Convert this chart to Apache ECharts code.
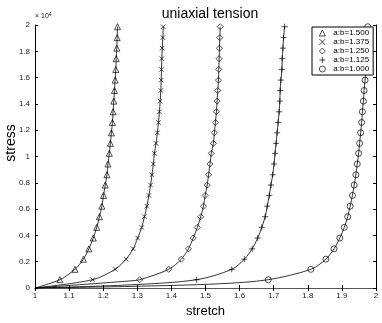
<!DOCTYPE html>
<html>
<head>
<meta charset="utf-8">
<script src="https://cdn.jsdelivr.net/npm/echarts@6/dist/echarts.min.js"></script>
<style>
  html, body { margin: 0; padding: 0; background: #fff; }
  #chart { width: 382px; height: 323px; }
</style>
</head>
<body>
<div id="chart"></div>
<script>
// stress is in units of 1e4 (axis reads "x 10^4")
const stressLevels = [0.063, 0.142, 0.219, 0.298, 0.380, 0.461, 0.542, 0.622, 0.704, 0.783, 0.861, 0.943, 1.024,
  1.100, 1.180, 1.259, 1.340, 1.421, 1.502, 1.581, 1.662, 1.744, 1.824, 1.904, 1.987];

// stretch at each marker, one array per aspect ratio
const stretch150 = [1.073, 1.117, 1.142, 1.158, 1.171, 1.181, 1.189, 1.196, 1.201, 1.206, 1.211, 1.214, 1.218,
  1.221, 1.224, 1.227, 1.229, 1.231, 1.233, 1.235, 1.237, 1.238, 1.240, 1.241, 1.242];
const stretch1375 = [1.169, 1.235, 1.267, 1.288, 1.301, 1.313, 1.321, 1.328, 1.334, 1.339, 1.343, 1.347, 1.350,
  1.355, 1.359, 1.362, 1.365, 1.367, 1.369, 1.370, 1.371, 1.372, 1.373, 1.375, 1.376];
const stretch125 = [1.307, 1.392, 1.429, 1.450, 1.464, 1.476, 1.486, 1.494, 1.499, 1.505, 1.509, 1.513, 1.517,
  1.523, 1.526, 1.529, 1.532, 1.534, 1.536, 1.538, 1.539, 1.540, 1.541, 1.542, 1.543];
const stretch1125 = [1.474, 1.577, 1.614, 1.637, 1.653, 1.665, 1.675, 1.681, 1.687, 1.692, 1.697, 1.701, 1.704,
  1.707, 1.710, 1.713, 1.716, 1.718, 1.719, 1.721, 1.724, 1.725, 1.727, 1.729, 1.732];
const stretch100 = [1.684, 1.809, 1.853, 1.877, 1.894, 1.907, 1.917, 1.924, 1.931, 1.936, 1.941, 1.945, 1.949,
  1.952, 1.955, 1.958, 1.960, 1.963, 1.965, 1.968, 1.970, 1.971, 1.973, 1.975, 1.976];

// unmarked points of the curve before its first marker (start at the origin)
const toe150 = [[1, 0]];
const toe1375 = [[1, 0]];
const toe125 = [[1, 0], [1.279, 0.054]];
const toe1125 = [[1, 0], [1.279, 0.024]];
const toe100 = [[1, 0], [1.279, 0.012], [1.54, 0.032]];

const names = ['a:b=1.500', 'a:b=1.375', 'a:b=1.250', 'a:b=1.125', 'a:b=1.000'];

const crossPath = 'path://M0,0L10,10M10,0L0,10';
const plusPath = 'path://M5,0L5,10M0,5L10,5';
const symbols = ['triangle', crossPath, 'diamond', plusPath, 'circle'];
const symbolSizes = [6, 4.5, 6, 6, 6];

function buildData(toe, xs) {
  const pts = toe.map(function (p) { return { value: p, symbol: 'none' }; });
  for (let i = 0; i < xs.length; i++) {
    pts.push([xs[i], stressLevels[i]]);
  }
  return pts;
}

const curves = [
  buildData(toe150, stretch150),
  buildData(toe1375, stretch1375),
  buildData(toe125, stretch125),
  buildData(toe1125, stretch1125),
  buildData(toe100, stretch100)
];

var myChart = echarts.init(document.getElementById('chart'));

var font = 'Liberation Sans, Arial, sans-serif';
var tickStyle = { show: true, inside: true, length: 3, lineStyle: { color: '#000', width: 1 } };

var option = {
  animation: false,
  textStyle: { fontFamily: font },
  title: {
    text: 'uniaxial tension',
    left: 205,
    top: 2,
    textAlign: 'center',
    textStyle: { fontSize: 14, fontWeight: 'normal', color: '#000', fontFamily: font }
  },
  legend: {
    orient: 'vertical',
    left: 312,
    top: 27,
    itemWidth: 6,
    itemHeight: 6,
    itemGap: 1,
    padding: [2, 4, 2, 7],
    backgroundColor: '#fff',
    borderColor: '#000',
    borderWidth: 1,
    borderRadius: 0,
    itemStyle: { color: 'rgba(255,255,255,0)', borderColor: '#000', borderWidth: 0.7 },
    textStyle: { fontSize: 8, lineHeight: 8, color: '#000', fontFamily: font, padding: [0, 0, 0, 3] },
    data: names.map(function (n, i) { return { name: n, icon: symbols[i] }; })
  },
  grid: { left: 35, right: 6, top: 25, bottom: 28 },
  xAxis: [
    {
      type: 'value', min: 1, max: 2, interval: 0.1,
      name: 'stretch', nameLocation: 'middle', nameGap: 17,
      nameTextStyle: { fontSize: 13, color: '#000', fontFamily: font },
      axisLine: { lineStyle: { color: '#000', width: 1 } },
      axisTick: tickStyle,
      axisLabel: { fontSize: 8, color: '#222', margin: 4 },
      splitLine: { show: false }
    },
    {
      type: 'value', min: 1, max: 2, interval: 0.1, position: 'top',
      axisLine: { show: true, lineStyle: { color: '#555', width: 1 } },
      axisTick: tickStyle,
      axisLabel: { show: false },
      splitLine: { show: false }
    }
  ],
  yAxis: [
    {
      type: 'value', min: 0, max: 2, interval: 0.2,
      axisLine: { show: true, lineStyle: { color: '#000', width: 1 } },
      axisTick: tickStyle,
      axisLabel: { fontSize: 8, color: '#222', margin: 5 },
      splitLine: { show: false }
    },
    {
      type: 'value', min: 0, max: 2, interval: 0.2, position: 'right',
      axisLine: { show: true, lineStyle: { color: '#000', width: 1 } },
      axisTick: tickStyle,
      axisLabel: { show: false },
      splitLine: { show: false }
    }
  ],
  graphic: [
    {
      type: 'text', left: 35, top: 12,
      style: {
        text: '× 10{s|4}',
        fontSize: 7, fill: '#222', fontFamily: font,
        rich: { s: { fontSize: 5, verticalAlign: 'top', padding: [0, 0, 4, 0] } }
      }
    },
    {
      type: 'text', x: 11, y: 143, rotation: Math.PI / 2,
      style: {
        text: 'stress', fontSize: 14, fill: '#000', fontFamily: font,
        align: 'center', verticalAlign: 'middle'
      }
    }
  ],
  series: curves.map(function (d, i) {
    return {
      name: names[i],
      type: 'line',
      data: d,
      smooth: 0.3,
      symbol: symbols[i],
      symbolSize: symbolSizes[i],
      showAllSymbol: true,
      clip: true,
      lineStyle: { color: '#000', width: 0.8 },
      itemStyle: { color: 'rgba(255,255,255,0)', borderColor: '#000', borderWidth: 0.7 }
    };
  })
};
myChart.setOption(option);
</script>
</body>
</html>
